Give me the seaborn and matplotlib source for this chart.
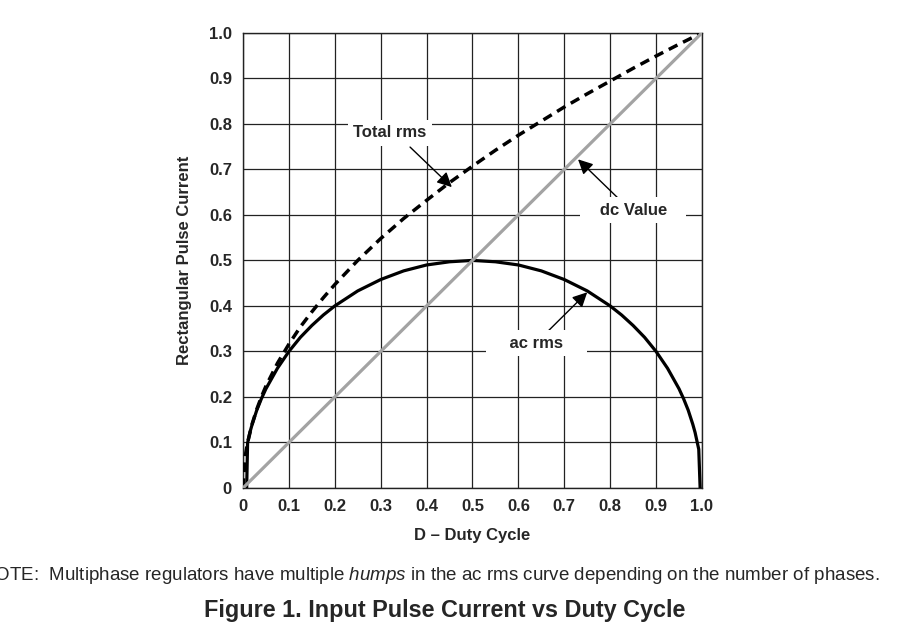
import matplotlib
matplotlib.use("Agg")
import matplotlib.pyplot as plt
import seaborn as sns
import pandas as pd

# valori
duty = [0.0, 0.005, 0.01, 0.02, 0.03, 0.04, 0.05, 0.075, 0.10, 0.125, 0.15, 0.175, 0.20,
        0.25, 0.30, 0.35, 0.40, 0.45, 0.50, 0.55, 0.60, 0.65, 0.70, 0.75, 0.80, 0.85,
        0.90, 0.95, 1.0]
total_rms = [0.0, 0.071, 0.100, 0.141, 0.173, 0.200, 0.224, 0.274, 0.316, 0.354, 0.387,
             0.418, 0.447, 0.500, 0.548, 0.592, 0.632, 0.671, 0.707, 0.742, 0.775, 0.806,
             0.837, 0.866, 0.894, 0.922, 0.949, 0.975, 1.0]

duty_ac = [0.008, 0.01, 0.015, 0.02, 0.03, 0.04, 0.05, 0.075, 0.10, 0.125, 0.15, 0.175,
           0.20, 0.25, 0.30, 0.35, 0.40, 0.45, 0.50, 0.55, 0.60, 0.65, 0.70, 0.75, 0.80,
           0.825, 0.85, 0.875, 0.90, 0.925, 0.95, 0.96, 0.97, 0.98, 0.985, 0.993, 0.996]
ac_rms = [0.0, 0.099, 0.122, 0.140, 0.171, 0.196, 0.218, 0.263, 0.300, 0.331, 0.357, 0.380,
          0.400, 0.433, 0.458, 0.477, 0.490, 0.497, 0.500, 0.497, 0.490, 0.477, 0.458,
          0.433, 0.400, 0.380, 0.357, 0.331, 0.300, 0.263, 0.218, 0.196, 0.171, 0.140,
          0.122, 0.085, 0.0]

duty_dc = [0.0, 1.0]
dc_value = [0.0, 1.0]

ticks = [0, 0.1, 0.2, 0.3, 0.4, 0.5, 0.6, 0.7, 0.8, 0.9, 1.0]
tick_labels = ["0", "0.1", "0.2", "0.3", "0.4", "0.5", "0.6", "0.7", "0.8", "0.9", "1.0"]

sns.set_theme(style="white")
plt.rcParams['font.family'] = ['Liberation Sans', 'DejaVu Sans']
plt.rcParams['mathtext.fontset'] = 'custom'
plt.rcParams['mathtext.it'] = 'Liberation Sans:italic'
plt.rcParams['mathtext.rm'] = 'Liberation Sans'

fig = plt.figure(figsize=(8.98, 6.31), dpi=100)
ax = fig.add_axes([0.2706, 0.2266, 0.5111, 0.7214])

df_tot = pd.DataFrame({"D": duty, "I": total_rms})
df_ac = pd.DataFrame({"D": duty_ac, "I": ac_rms})
df_dc = pd.DataFrame({"D": duty_dc, "I": dc_value})

sns.lineplot(data=df_ac, x="D", y="I", ax=ax, color="black", lw=2.3,
             estimator=None, sort=False, zorder=3)
sns.lineplot(data=df_tot, x="D", y="I", ax=ax, color="black", lw=2.5,
             linestyle=(0, (2.8, 1.8)), estimator=None, sort=False, zorder=3)
sns.lineplot(data=df_dc, x="D", y="I", ax=ax, color="#a3a3a3", lw=2.3,
             estimator=None, sort=False, zorder=4)

ax.set_xlim(0, 1)
ax.set_ylim(0, 1)
ax.set_xticks(ticks)
ax.set_xticklabels(tick_labels)
ax.set_yticks(ticks)
ax.set_yticklabels(tick_labels)
ax.tick_params(length=0, labelsize=12, pad=8)
for lab in ax.get_xticklabels() + ax.get_yticklabels():
    lab.set_fontweight("bold")
ax.grid(True, color="#222222", lw=0.9)
ax.set_axisbelow(True)
for sp in ax.spines.values():
    sp.set_color("#222222")
    sp.set_linewidth(1.0)

ax.set_xlabel("D \u2013 Duty Cycle", fontsize=12, fontweight="bold", labelpad=10)
ax.set_ylabel("Rectangular Pulse Current", fontsize=12, fontweight="bold", labelpad=12)

# etichette con freccia
arrow = dict(arrowstyle="-|>", color="black", lw=1.0, mutation_scale=22, shrinkA=0, shrinkB=0)
box = dict(facecolor="white", edgecolor="none", pad=4)
ax.annotate("", xy=(0.455, 0.661), xytext=(0.364, 0.749), arrowprops=arrow, zorder=5)
ax.text(0.32, 0.78, "Total rms", fontsize=12, fontweight="bold", ha="center", va="center",
        bbox=box, zorder=5)
ax.annotate("", xy=(0.73, 0.722), xytext=(0.817, 0.637), arrowprops=arrow, zorder=5)
ax.text(0.85, 0.61, "   dc Value   ", fontsize=12, fontweight="bold", ha="center", va="center",
        bbox=box, zorder=5)
ax.annotate("", xy=(0.75, 0.43), xytext=(0.66, 0.34), arrowprops=arrow, zorder=5)
ax.text(0.64, 0.318, "    ac rms    ", fontsize=12, fontweight="bold", ha="center", va="center",
        bbox=box, zorder=5)

fig.text(880 / 898, 1 - 576 / 631,
         "NOTE:  Multiphase regulators have multiple $\\it{humps}$ in the ac rms curve depending on the number of phases.",
         fontsize=13.5, ha="right", va="center")
fig.text(445 / 898, 1 - 610 / 631, "Figure 1. Input Pulse Current vs Duty Cycle",
         fontsize=16.8, fontweight="bold", ha="center", va="center")

fig.savefig("out.png", dpi=100)
plt.close(fig)
